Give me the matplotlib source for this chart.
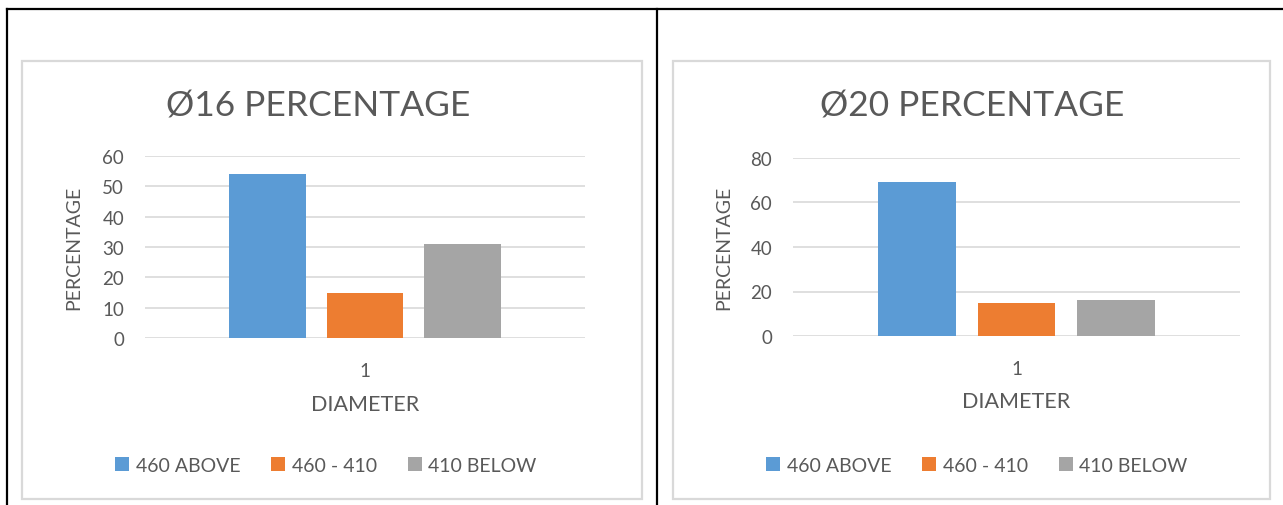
import matplotlib
matplotlib.use("Agg")
import matplotlib.pyplot as plt
from matplotlib.patches import Rectangle, Patch
from matplotlib.lines import Line2D
import numpy as np

# ---- data ----
categories = ["1"]
series_labels = ["460 ABOVE", "460 - 410", "410 BELOW"]
series_colors = ["#5B9BD5", "#ED7D31", "#A5A5A5"]
pct_16 = [54, 15, 31]
pct_20 = [69, 15, 16]
yticks_16 = [0, 10, 20, 30, 40, 50, 60]
yticks_20 = [0, 20, 40, 60, 80]
title_16 = "\u00d816 PERCENTAGE"
title_20 = "\u00d820 PERCENTAGE"
xlabel = "DIAMETER"
ylabel = "PERCENTAGE"

W, H = 1283, 506
DPI = 100
plt.rcParams['font.family'] = ['Lato', 'DejaVu Sans']
TXT = "#595959"
GRID = "#D9D9D9"

fig = plt.figure(figsize=(W / DPI, H / DPI), dpi=DPI)
fig.patch.set_facecolor("white")


def fx(px):
    return px / W


def fy(py):
    return 1 - py / H


# outer black table lines
for (x0, y0, x1, y1) in [(7, 10, W, 10), (7, 10, 7, H), (657, 10, 657, H)]:
    fig.add_artist(Line2D([fx(x0), fx(x1)], [fy(y0), fy(y1)], color="black",
                          lw=1.6, transform=fig.transFigure))

# chart-area borders
for (x0, y0, x1, y1) in [(22, 62, 642, 500), (673, 62, 1270, 500)]:
    fig.add_artist(Rectangle((fx(x0), fy(y1)), fx(x1) - fx(x0), fy(y0) - fy(y1),
                             fill=False, edgecolor=GRID, lw=1.6,
                             transform=fig.transFigure))

panels = [
    dict(vals=pct_16, yt=yticks_16, title=title_16, box=(145, 157, 585, 339),
         title_xy=(318, 107), ylab_x=74, xlab_y=405, leg_xy=(326, 466.5)),
    dict(vals=pct_20, yt=yticks_20, title=title_20, box=(793, 159, 1240, 337),
         title_xy=(972, 107), ylab_x=724, xlab_y=402, leg_xy=(977, 466.5)),
]

offset = 0.222
bw = 0.174

for p in panels:
    x0, y0, x1, y1 = p["box"]
    ax = fig.add_axes([fx(x0), fy(y1), fx(x1) - fx(x0), fy(y0) - fy(y1)])
    xs = np.arange(1, len(categories) + 1)
    handles = []
    for i, (lab, col) in enumerate(zip(series_labels, series_colors)):
        ax.bar(xs + (i - 1) * offset, [p["vals"][i]], width=bw, color=col,
               zorder=3, label=lab)
        handles.append(Patch(facecolor=col, edgecolor='none', label=lab))
    ax.set_xlim(0.5, len(categories) + 0.5)
    ax.set_ylim(p["yt"][0], p["yt"][-1])
    ax.set_yticks(p["yt"])
    ax.set_xticks(xs)
    ax.set_xticklabels(categories)
    ax.grid(axis="y", color=GRID, lw=1.2, zorder=0)
    ax.set_axisbelow(True)
    for s in ax.spines.values():
        s.set_visible(False)
    ax.tick_params(axis="both", length=0, colors=TXT, labelsize=13.5)
    ax.tick_params(axis="y", pad=15)
    ax.tick_params(axis="x", pad=17)

    ax.set_ylabel(ylabel, color=TXT, fontsize=14)
    ax.yaxis.label.set_verticalalignment("center")
    ax.yaxis.set_label_coords((p["ylab_x"] - x0) / (x1 - x0), 0.5)

    ax.set_xlabel(xlabel, color=TXT, fontsize=15.5)
    ax.xaxis.label.set_verticalalignment("center")
    ax.xaxis.set_label_coords(0.5, (y1 - p["xlab_y"]) / (y1 - y0))

    fig.text(fx(p["title_xy"][0]), fy(p["title_xy"][1]), p["title"],
             ha="center", va="center", color=TXT, fontsize=25.5)

    fig.legend(handles=handles, loc="center",
               bbox_to_anchor=(fx(p["leg_xy"][0]), fy(p["leg_xy"][1])),
               bbox_transform=fig.transFigure, ncol=3, frameon=False,
               fontsize=14, labelcolor=TXT, handlelength=0.7, handleheight=0.7,
               handletextpad=0.35, columnspacing=1.6, borderpad=0)

fig.savefig("out.png", dpi=DPI, facecolor="white")
